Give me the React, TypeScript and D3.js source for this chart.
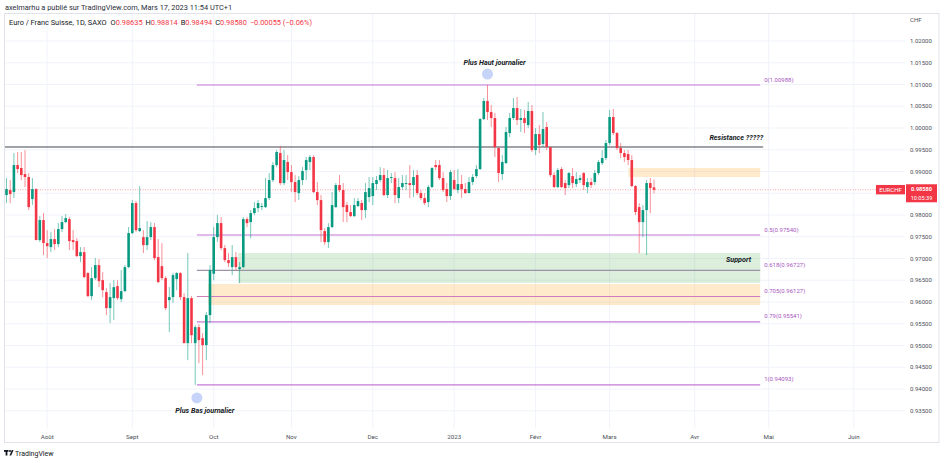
import React from 'react';
import * as d3 from 'd3';

// ---------- DATA ----------
const firstBarDate = '2022-07-15';
const lastAxisDate = '2023-06-30';

const opens = [
  0.98458, 0.98573, 0.98527, 0.99148, 0.99079, 0.98941, 0.98872, 0.98366, 0.98596, 0.97423,
  0.97883, 0.97354, 0.97262, 0.97446, 0.97331, 0.97676, 0.97837, 0.97906, 0.97423, 0.97400,
  0.97055, 0.97147, 0.96664, 0.96135, 0.96549, 0.96848, 0.96503, 0.96227, 0.95859, 0.96089,
  0.96365, 0.96066, 0.96250, 0.96802, 0.97584, 0.98274, 0.97630, 0.97492, 0.97308, 0.97492,
  0.97722, 0.97032, 0.96825, 0.96549, 0.96043, 0.96112, 0.96526, 0.96664, 0.96112, 0.95054,
  0.96089, 0.95054, 0.95422, 0.95169, 0.95008, 0.95698, 0.96650, 0.97492, 0.97814, 0.97239,
  0.96963, 0.96802, 0.97032, 0.96756, 0.96802, 0.97906, 0.97837, 0.98044, 0.98159, 0.98182,
  0.98182, 0.98389, 0.98803, 0.99148, 0.99424, 0.98734, 0.99217, 0.98987, 0.98757, 0.98504,
  0.98803, 0.99033, 0.99217, 0.99332, 0.98527, 0.98343, 0.97630, 0.97377, 0.97722, 0.98182,
  0.98688, 0.98573, 0.98228, 0.98067, 0.97975, 0.98205, 0.98274, 0.98113, 0.98412, 0.98435,
  0.98711, 0.98803, 0.98918, 0.98458, 0.98849, 0.98849, 0.98389, 0.98642, 0.98711, 0.98734,
  0.98688, 0.98918, 0.98504, 0.98389, 0.98297, 0.98642, 0.99148, 0.99148, 0.98849, 0.98596,
  0.98435, 0.98803, 0.98573, 0.98711, 0.98596, 0.98504, 0.98757, 0.98895, 0.99056, 1.00206,
  1.00620, 1.00367, 1.00229, 0.99539, 0.98941, 0.99194, 0.99884, 1.00229, 1.00459, 1.00183,
  1.00229, 1.00068, 1.00390, 0.99493, 0.99861, 0.99631, 1.00022, 0.99562, 0.98918, 0.98642,
  0.99056, 0.98734, 0.98688, 0.98895, 0.98711, 0.98803, 0.98964, 0.98642, 0.98757, 0.98757,
  0.98964, 0.99194, 0.99309, 0.99654, 1.00252, 0.99884, 0.99539, 0.99424, 0.99401, 0.99263,
  0.98665, 0.98182, 0.97837, 0.98113, 0.98734, 0.98635,
];

const highs = [
  0.98849, 0.98803, 0.99424, 0.99447, 0.99447, 0.99493, 0.98964, 0.98849, 0.98619, 0.97975,
  0.98044, 0.97653, 0.97607, 0.97676, 0.97814, 0.97975, 0.98021, 0.97952, 0.97653, 0.97469,
  0.97262, 0.97262, 0.96687, 0.96802, 0.97009, 0.96986, 0.96687, 0.96319, 0.96434, 0.96503,
  0.96503, 0.96733, 0.96848, 0.97722, 0.98343, 0.98320, 0.98665, 0.97653, 0.97860, 0.97837,
  0.97814, 0.97446, 0.97354, 0.96595, 0.96342, 0.96664, 0.96687, 0.96687, 0.96204, 0.97124,
  0.96135, 0.95468, 0.95491, 0.95284, 0.95767, 0.96848, 0.97722, 0.97998, 0.97952, 0.97308,
  0.97124, 0.97308, 0.97147, 0.96917, 0.97952, 0.97952, 0.98113, 0.98297, 0.98343, 0.98274,
  0.98849, 0.98964, 0.99217, 0.99493, 0.99585, 0.99493, 0.99378, 0.99148, 0.98918, 0.98895,
  0.99102, 0.99332, 0.99378, 0.99378, 0.98757, 0.98458, 0.97699, 0.97814, 0.98527, 0.98734,
  0.98918, 0.98734, 0.98297, 0.98228, 0.98389, 0.98389, 0.98343, 0.98734, 0.98872, 0.98872,
  0.98895, 0.99102, 0.99079, 0.99033, 0.98964, 0.98987, 0.98849, 0.98918, 0.98918, 0.99148,
  0.99033, 0.99033, 0.98573, 0.98504, 0.98688, 0.99102, 0.99263, 0.99263, 0.98987, 0.98734,
  0.99033, 0.99033, 0.99056, 0.98918, 0.98734, 0.98872, 0.98941, 0.99148, 1.00229, 1.00689,
  1.00988, 1.00528, 1.00344, 0.99562, 0.99378, 1.00022, 1.00344, 1.00689, 1.00712, 1.00436,
  1.00413, 1.00597, 1.00528, 0.99999, 1.00068, 1.00367, 1.00137, 0.99562, 0.98987, 0.99079,
  0.99102, 0.98803, 0.98987, 0.99079, 0.98987, 0.98918, 0.98987, 0.98849, 0.98849, 0.99033,
  0.99263, 0.99493, 0.99723, 1.00413, 1.00436, 0.99907, 0.99654, 0.99493, 0.99493, 0.99378,
  0.98688, 0.98274, 0.98228, 0.98803, 0.98849, 0.98814,
];

const lows = [
  0.98274, 0.98274, 0.98389, 0.98964, 0.98803, 0.98642, 0.98113, 0.98228, 0.97423, 0.97377,
  0.97078, 0.97009, 0.97147, 0.97193, 0.97262, 0.97607, 0.97814, 0.97193, 0.97193, 0.97032,
  0.96917, 0.96549, 0.96112, 0.96043, 0.96503, 0.96342, 0.96112, 0.95698, 0.95514, 0.95583,
  0.96043, 0.95997, 0.96227, 0.96779, 0.97561, 0.97607, 0.97607, 0.97124, 0.97193, 0.97423,
  0.96963, 0.96434, 0.96503, 0.95813, 0.95307, 0.95974, 0.96273, 0.96043, 0.95054, 0.94663,
  0.95054, 0.94093, 0.94594, 0.94318, 0.94663, 0.95514, 0.96503, 0.97377, 0.97193, 0.96917,
  0.96802, 0.96618, 0.96733, 0.96434, 0.96779, 0.97722, 0.97469, 0.97998, 0.98067, 0.98113,
  0.98159, 0.98343, 0.98757, 0.99102, 0.98688, 0.98688, 0.98803, 0.98527, 0.98297, 0.98343,
  0.98688, 0.98803, 0.99033, 0.98504, 0.98228, 0.97377, 0.97308, 0.97239, 0.97699, 0.98159,
  0.98527, 0.97837, 0.97837, 0.97952, 0.97952, 0.98182, 0.97883, 0.97929, 0.98297, 0.98228,
  0.98573, 0.98757, 0.98435, 0.98389, 0.98734, 0.98274, 0.98274, 0.98573, 0.98573, 0.98389,
  0.98412, 0.98458, 0.98343, 0.98228, 0.98182, 0.98619, 0.99033, 0.98803, 0.98527, 0.98297,
  0.98343, 0.98573, 0.98504, 0.98389, 0.98481, 0.98504, 0.98688, 0.98849, 0.99033, 1.00183,
  1.00183, 1.00022, 0.99332, 0.98757, 0.98803, 0.99171, 0.99792, 1.00183, 1.00068, 0.99907,
  0.99884, 0.99999, 0.99447, 0.99378, 0.99424, 0.99562, 0.99493, 0.98872, 0.98619, 0.98619,
  0.98619, 0.98458, 0.98619, 0.98619, 0.98642, 0.98734, 0.98573, 0.98504, 0.98619, 0.98688,
  0.98918, 0.99148, 0.99263, 0.99608, 0.99838, 0.99493, 0.99309, 0.99217, 0.99148, 0.98642,
  0.97998, 0.97124, 0.97492, 0.97078, 0.98044, 0.98494,
];

const closes = [
  0.98596, 0.98481, 0.99148, 0.99056, 0.98918, 0.98872, 0.98182, 0.98596, 0.97423, 0.97883,
  0.97354, 0.97285, 0.97446, 0.97331, 0.97676, 0.97837, 0.97929, 0.97400, 0.97377, 0.97055,
  0.97147, 0.96572, 0.96135, 0.96549, 0.96848, 0.96480, 0.96273, 0.95859, 0.96112, 0.96342,
  0.96089, 0.96250, 0.96802, 0.97584, 0.98274, 0.97653, 0.97699, 0.97308, 0.97492, 0.97722,
  0.97009, 0.96457, 0.96549, 0.95859, 0.96112, 0.96618, 0.96664, 0.96112, 0.95054, 0.96089,
  0.95238, 0.95422, 0.95123, 0.95008, 0.95698, 0.96733, 0.97492, 0.97814, 0.97239, 0.96963,
  0.96894, 0.97032, 0.96802, 0.96802, 0.97906, 0.97814, 0.98044, 0.98159, 0.98274, 0.98205,
  0.98389, 0.98803, 0.99148, 0.99447, 0.98734, 0.99263, 0.98987, 0.98757, 0.98527, 0.98803,
  0.99010, 0.99263, 0.99332, 0.98527, 0.98343, 0.97653, 0.97377, 0.97722, 0.98228, 0.98688,
  0.98573, 0.98182, 0.98067, 0.97975, 0.98228, 0.98320, 0.98113, 0.98527, 0.98619, 0.98734,
  0.98803, 0.98918, 0.98458, 0.98849, 0.98872, 0.98458, 0.98642, 0.98734, 0.98734, 0.98688,
  0.98872, 0.98504, 0.98389, 0.98274, 0.98642, 0.99079, 0.99102, 0.98849, 0.98573, 0.98435,
  0.98987, 0.98596, 0.98711, 0.98596, 0.98504, 0.98757, 0.98872, 0.99056, 1.00206, 1.00620,
  1.00367, 1.00229, 0.99562, 0.98964, 0.99217, 0.99907, 1.00229, 1.00459, 1.00183, 1.00229,
  1.00114, 1.00390, 0.99493, 0.99861, 0.99608, 0.99976, 0.99562, 0.98918, 0.98642, 0.99033,
  0.98642, 0.98619, 0.98964, 0.98734, 0.98826, 0.98849, 0.98688, 0.98757, 0.98688, 0.98964,
  0.99217, 0.99309, 0.99654, 1.00252, 0.99884, 0.99539, 0.99424, 0.99332, 0.99263, 0.98665,
  0.98067, 0.97837, 0.98113, 0.98734, 0.98619, 0.98580,
];

const priceTicks = [1.02, 1.015, 1.01, 1.005, 1.0, 0.995, 0.99, 0.985, 0.98, 0.975, 0.97, 0.965, 0.96, 0.955, 0.95, 0.945, 0.94, 0.935];
const monthLabels = ['Août', 'Sept', 'Oct', 'Nov', 'Dec', '2023', 'Févr', 'Mars', 'Avr', 'Mai', 'Juin'];
const monthStarts = ['2022-08', '2022-09', '2022-10', '2022-11', '2022-12', '2023-01', '2023-02', '2023-03', '2023-04', '2023-05', '2023-06'];

const fibRatios = ['0', '0.5', '0.618', '0.705', '0.79', '1'];
const fibValues = [1.00988, 0.9754, 0.96727, 0.96127, 0.95541, 0.94093];

const resistanceLevel = 0.99563;
const supportZone = [0.97127, 0.96437];
const lowerOrangeZone = [0.96414, 0.95931];
const upperOrangeZone = [0.99081, 0.98874];
const lastPrice = 0.9858;
const headerValues = ['0.98635', '0.98814', '0.98494', '0.98580'];
const headerLetters = ['O', 'H', 'B', 'C'];

// ---------- LAYOUT ----------
const W = 945;
const H = 463;
const PL = 5, PR = 905, PT = 14, PB = 428;
const FONT = "Roboto, 'Liberation Sans', Arial, sans-serif";
const UP = '#089981';
const DOWN = '#f23645';
const FIB = '#c47bd6';
const FIB_TXT = '#a855c0';

function tradingDays(from: string, to: string) {
  const out: Date[] = [];
  const d = new Date(from + 'T12:00:00');
  const end = new Date(to + 'T12:00:00');
  while (d <= end) {
    const w = d.getDay();
    if (w !== 0 && w !== 6) out.push(new Date(d));
    d.setDate(d.getDate() + 1);
  }
  return out;
}

export default function App() {
  const days = tradingDays(firstBarDate, lastAxisDate);
  const n = opens.length;
  const x = d3.scaleLinear().domain([0, n - 1]).range([6.5, 654]);
  const y = d3.scaleLinear().domain([0.935, 1.02]).range([410.75, 41]);
  const fmt = d3.format('.5f');

  const monthIdx = monthStarts.map((m) => days.findIndex((d) => {
    const s = `${d.getFullYear()}-${String(d.getMonth() + 1).padStart(2, '0')}`;
    return s === m;
  }));

  const lowIdx = lows.indexOf(d3.min(lows) as number);
  const highIdx = highs.indexOf(d3.max(highs) as number);
  const fibX1 = x(lowIdx + 0.45);
  const zoneEndX = x(203.7);
  const supportX1 = x(62.6);
  const lowerOrangeX1 = x(54.5);
  const upperOrangeX1 = x(168.1);
  const bw = 2.6;
  const axisLabels = priceTicks.filter((p) => Math.abs(y(p) - y(lastPrice)) > 10);

  return (
    <svg width={W} height={H} style={{ position: 'absolute', left: 0, top: 0, background: '#fff' }} fontFamily={FONT}>
      <defs>
        <clipPath id="plotClip"><rect x={PL} y={PT} width={PR - PL} height={PB - PT} /></clipPath>
      </defs>
      <rect x={0} y={0} width={W} height={H} fill="#fff" />

      {/* header */}
      <text x={5} y={10} fontSize={7.4} fill="#2a2e39">axelmarhu a publié sur TradingView.com, Mars 17, 2023 11:54 UTC+1</text>

      {/* panel frame */}
      <rect x={PL - 0.5} y={PT - 0.5} width={939.5 - PL} height={443 - PT} fill="none" stroke="#e0e3eb" strokeWidth={1} />

      {/* grid */}
      <g>
        {priceTicks.map((p) => (
          <line key={p} x1={PL} x2={PR} y1={y(p)} y2={y(p)} stroke="#f0f3fa" strokeWidth={1} />
        ))}
        {monthIdx.map((mi, k) => (
          <line key={k} x1={x(mi)} x2={x(mi)} y1={PT} y2={PB} stroke="#f0f3fa" strokeWidth={1} />
        ))}
      </g>

      <text x={9} y={25} fontSize={7.4} fill="#131722">
        <tspan>Euro / Franc Suisse, 1D, SAXO</tspan>
        {headerLetters.map((l, k) => (
          <React.Fragment key={k}>
            <tspan fill="#131722" dx={k === 0 ? 4 : 3}>{l}</tspan>
            <tspan fill={DOWN}>{headerValues[k]}</tspan>
          </React.Fragment>
        ))}
        <tspan fill={DOWN} dx={3}>−0.00055 (−0.06%)</tspan>
      </text>

      <g clipPath="url(#plotClip)">
        {/* zones */}
        <rect x={supportX1} y={y(supportZone[0])} width={zoneEndX - supportX1} height={y(supportZone[1]) - y(supportZone[0])} fill="#4caf50" fillOpacity={0.2} />
        <rect x={lowerOrangeX1} y={y(lowerOrangeZone[0])} width={zoneEndX - lowerOrangeX1} height={y(lowerOrangeZone[1]) - y(lowerOrangeZone[0])} fill="#ff9800" fillOpacity={0.2} />
        <rect x={upperOrangeX1} y={y(upperOrangeZone[0])} width={zoneEndX - upperOrangeX1} height={y(upperOrangeZone[1]) - y(upperOrangeZone[0])} fill="#ff9800" fillOpacity={0.2} />

        {/* fib levels */}
        {fibValues.map((v, k) => (
          <line key={k} x1={fibX1} x2={zoneEndX} y1={y(v)} y2={y(v)}
            stroke={k === 2 ? '#9d92a6' : k === 3 ? '#d27cc0' : FIB} strokeWidth={1.2} />
        ))}

        {/* resistance */}
        <line x1={PL} x2={x(204.5)} y1={y(resistanceLevel)} y2={y(resistanceLevel)} stroke="#434651" strokeWidth={1.2} />

        {/* last price line */}
        <line x1={PL} x2={PR} y1={y(lastPrice)} y2={y(lastPrice)} stroke={DOWN} strokeOpacity={0.45} strokeWidth={1} strokeDasharray="1,1.5" />

        {/* candles */}
        {opens.map((o, i) => {
          const c = closes[i];
          const col = c >= o ? UP : DOWN;
          const cx = x(i);
          const top = y(Math.max(o, c));
          const bot = y(Math.min(o, c));
          return (
            <g key={i}>
              <line x1={cx} x2={cx} y1={y(highs[i])} y2={y(lows[i])} stroke={col} strokeOpacity={0.55} strokeWidth={1} />
              <rect x={cx - bw / 2} y={top} width={bw} height={Math.max(0.8, bot - top)} fill={col} />
            </g>
          );
        })}

        {/* annotations */}
        <circle cx={x(highIdx)} cy={y(highs[highIdx]) - 11} r={5.5} fill="#c5d4f8" />
        <text x={x(highIdx) + 7} y={65} textAnchor="middle" fontSize={7.2} fontStyle="italic" fontWeight="bold" fill="#131722">Plus Haut journalier</text>
        <circle cx={fibX1} cy={y(lows[lowIdx]) + 13} r={5.5} fill="#c5d4f8" />
        <text x={fibX1 + 8} y={413} textAnchor="middle" fontSize={7.2} fontStyle="italic" fontWeight="bold" fill="#131722">Plus Bas journalier</text>
        <text x={x(204.5)} y={y(resistanceLevel) - 7} textAnchor="end" fontSize={7.2} fontStyle="italic" fontWeight="bold" fill="#131722">Resistance ?????</text>
        <text x={751} y={y(supportZone[0]) + 9} textAnchor="end" fontSize={7.2} fontStyle="italic" fontWeight="bold" fill="#131722">Support</text>

        {/* fib labels */}
        {fibValues.map((v, k) => (
          <text key={k} x={zoneEndX + 4} y={y(v) - 3.5} fontSize={6} fill={FIB_TXT}>{`${fibRatios[k]}(${fmt(v)})`}</text>
        ))}
      </g>

      {/* price axis */}
      <text x={910} y={22} fontSize={6} fill="#4a4e59">CHF</text>
      {axisLabels.map((p) => (
        <text key={p} x={910} y={y(p) + 2.1} fontSize={6} fill="#4a4e59">{fmt(p)}</text>
      ))}
      <rect x={876} y={y(lastPrice) - 4.8} width={29} height={9.4} fill={DOWN} />
      <text x={890.5} y={y(lastPrice) + 2} textAnchor="middle" fontSize={6} fill="#fff">EURCHF</text>
      <rect x={906} y={y(lastPrice) - 5.5} width={31} height={18} fill={DOWN} />
      <text x={921.5} y={y(lastPrice) + 1.6} textAnchor="middle" fontSize={5.6} fill="#fff" fontWeight="bold">{fmt(lastPrice)}</text>
      <text x={921.5} y={y(lastPrice) + 10} textAnchor="middle" fontSize={5.6} fill="#fff">10:05:39</text>

      {/* time axis */}
      {monthIdx.map((mi, k) => (
        <text key={k} x={x(mi)} y={439} textAnchor="middle" fontSize={6.2} fill="#4a4e59">{monthLabels[k]}</text>
      ))}

      {/* footer logo */}
      <g fill="#131722">
        <rect x={4} y={450} width={4.5} height={1.8} />
        <rect x={5.6} y={450} width={1.8} height={5.5} />
        <circle cx={10} cy={451} r={1} />
        <path d="M9.5,455.5 L11.8,450 L13.5,450 L11.2,455.5 Z" />
      </g>
      <text x={15} y={455.5} fontSize={7} fill="#131722">TradingView</text>
    </svg>
  );
}
